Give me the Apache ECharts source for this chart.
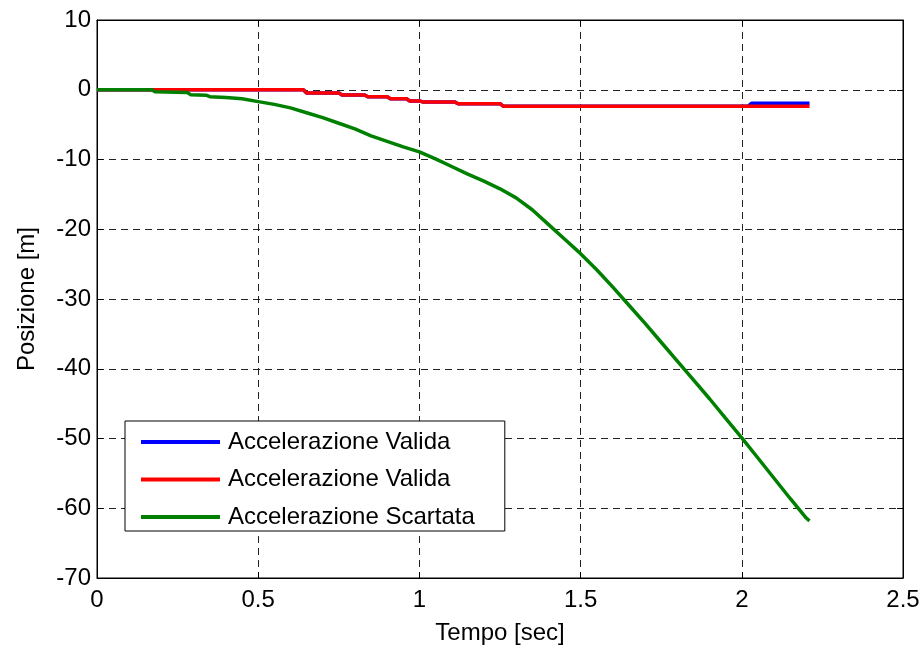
<!DOCTYPE html>
<html>
<head>
<meta charset="utf-8">
<title>Posizione vs Tempo</title>
<script src="https://cdn.jsdelivr.net/npm/echarts@6/dist/echarts.min.js"></script>
<style>
  html, body { margin: 0; padding: 0; background: #fff; }
  #chart { width: 924px; height: 650px; }
</style>
</head>
<body>
<div id="chart"></div>
<script>
// Axis ticks
const xTicks = [0, 0.5, 1, 1.5, 2, 2.5];
const yTicks = [-70, -60, -50, -40, -30, -20, -10, 0, 10];

// Series names
const nameBlue = 'Accelerazione Valida';
const nameRed = 'Accelerazione Valida ';
const nameGreen = 'Accelerazione Scartata';

// Position from the valid acceleration (blue trace), stepwise
const blueT = [0, 0.64, 0.65, 0.75, 0.76, 0.83, 0.84, 0.90, 0.91, 0.96, 0.97, 1.00, 1.01, 1.11, 1.12, 1.25, 1.26, 2.02, 2.03, 2.21];
const blueV = [0, 0, -0.45, -0.45, -0.75, -0.75, -1.0, -1.0, -1.3, -1.3, -1.6, -1.6, -1.75, -1.75, -2.0, -2.0, -2.35, -2.35, -1.95, -1.95];

// Position from the valid acceleration (red trace), stepwise
const redT = [0, 0.64, 0.65, 0.75, 0.76, 0.83, 0.84, 0.90, 0.91, 0.96, 0.97, 1.00, 1.01, 1.11, 1.12, 1.25, 1.26, 2.21];
const redV = [0, 0, -0.45, -0.45, -0.75, -0.75, -1.0, -1.0, -1.3, -1.3, -1.6, -1.6, -1.75, -1.75, -2.0, -2.0, -2.35, -2.35];

// Position from the discarded acceleration (green trace)
const greenT = [0, 0.17, 0.18, 0.28, 0.29, 0.34, 0.35, 0.40, 0.45, 0.50, 0.55, 0.60, 0.65, 0.70, 0.75, 0.80, 0.85, 0.90, 0.95, 1.00, 1.05, 1.10, 1.15, 1.20, 1.25, 1.30, 1.35, 1.40, 1.45, 1.50, 1.55, 1.60, 1.65, 1.70, 1.75, 1.80, 1.85, 1.90, 1.95, 2.00, 2.05, 2.10, 2.15, 2.20, 2.21];
const greenV = [0, 0, -0.3, -0.4, -0.7, -0.8, -1.0, -1.1, -1.3, -1.7, -2.1, -2.6, -3.3, -4.0, -4.8, -5.6, -6.6, -7.4, -8.2, -8.9, -9.9, -11.0, -12.1, -13.1, -14.2, -15.5, -17.2, -19.3, -21.4, -23.5, -25.8, -28.3, -30.9, -33.5, -36.2, -38.9, -41.6, -44.3, -47.1, -49.9, -52.8, -55.7, -58.6, -61.4, -61.8];

const pairs = (t, v) => t.map((x, i) => [x, v[i]]);

const FONT = '"Liberation Sans", Arial, sans-serif';
const gridDash = { color: '#222', width: 1, type: [7, 5] };

const xBase = {
  type: 'value',
  min: xTicks[0],
  max: xTicks[xTicks.length - 1],
  interval: xTicks[1] - xTicks[0],
  axisLine: { show: true, onZero: false, lineStyle: { color: '#000', width: 1 } },
  axisTick: { show: true, inside: true, length: 6, lineStyle: { color: '#000' } }
};
const yBase = {
  type: 'value',
  min: yTicks[0],
  max: yTicks[yTicks.length - 1],
  interval: yTicks[1] - yTicks[0],
  axisLine: { show: true, onZero: false, lineStyle: { color: '#000', width: 1 } },
  axisTick: { show: true, inside: true, length: 6, lineStyle: { color: '#000' } }
};

const chart = echarts.init(document.getElementById('chart'), null, { renderer: 'canvas' });
chart.setOption({
  animation: false,
  backgroundColor: '#fff',
  textStyle: { fontFamily: FONT },
  grid: {
    left: 97, right: 21, top: 20, bottom: 72,
    containLabel: false,
    outerBoundsMode: 'none',
    show: true, borderColor: '#000', borderWidth: 1, backgroundColor: '#fff'
  },
  legend: {
    orient: 'vertical',
    left: 125,
    top: 421,
    padding: [9, 30, 2, 16],
    itemGap: 13.5,
    itemWidth: 79,
    itemHeight: 4,
    icon: 'rect',
    backgroundColor: '#fff',
    borderColor: '#000',
    borderWidth: 1,
    borderRadius: 0,
    selectedMode: false,
    textStyle: { fontFamily: FONT, fontSize: 24, color: '#000', padding: [0, 0, 0, 3] },
    data: [nameBlue, nameRed, nameGreen]
  },
  xAxis: [
    Object.assign({}, xBase, {
      position: 'bottom',
      name: 'Tempo [sec]',
      nameLocation: 'middle',
      nameGap: 43,
      nameTextStyle: { fontFamily: FONT, fontSize: 24, color: '#000' },
      axisLabel: { show: true, margin: 10, fontFamily: FONT, fontSize: 24, color: '#000' },
      splitLine: { show: true, lineStyle: gridDash }
    }),
    Object.assign({}, xBase, {
      position: 'top',
      axisLabel: { show: false },
      splitLine: { show: false }
    })
  ],
  yAxis: [
    Object.assign({}, yBase, {
      position: 'left',
      name: 'Posizione [m]',
      nameLocation: 'middle',
      nameRotate: 90,
      nameGap: 58,
      nameTextStyle: { fontFamily: FONT, fontSize: 24, color: '#000' },
      axisLabel: { show: true, margin: 6, fontFamily: FONT, fontSize: 24, color: '#000' },
      splitLine: { show: true, lineStyle: gridDash }
    }),
    Object.assign({}, yBase, {
      position: 'right',
      axisLabel: { show: false },
      splitLine: { show: false }
    })
  ],
  series: [
    {
      name: nameBlue, type: 'line', xAxisIndex: 0, yAxisIndex: 0,
      data: pairs(blueT, blueV), showSymbol: false, symbol: 'none',
      itemStyle: { color: '#0000ff' },
      lineStyle: { color: '#0000ff', width: 3.5 }, z: 2
    },
    {
      name: nameRed, type: 'line', xAxisIndex: 0, yAxisIndex: 0,
      data: pairs(redT, redV), showSymbol: false, symbol: 'none',
      itemStyle: { color: '#ff0000' },
      lineStyle: { color: '#ff0000', width: 3.5 }, z: 3
    },
    {
      name: nameGreen, type: 'line', xAxisIndex: 0, yAxisIndex: 0,
      data: pairs(greenT, greenV), showSymbol: false, symbol: 'none',
      itemStyle: { color: '#008000' },
      lineStyle: { color: '#008000', width: 3.5 }, z: 4
    }
  ]
});
</script>
</body>
</html>
